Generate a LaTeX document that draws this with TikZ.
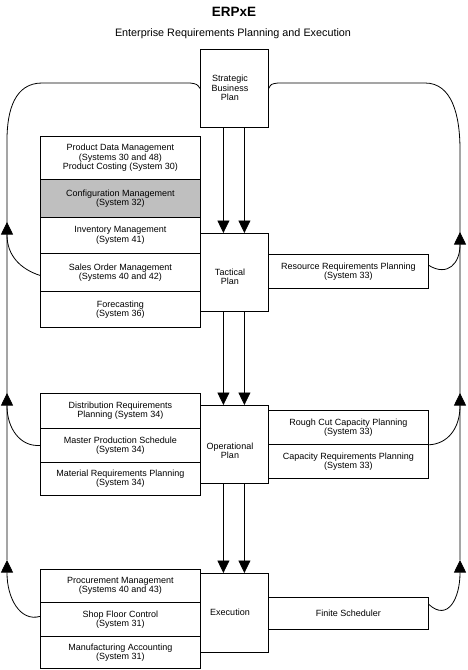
\documentclass[tikz,border=0pt]{standalone}
\usepackage{fontspec}
\setmainfont{Liberation Sans}
\usetikzlibrary{arrows.meta}

\begin{document}
\begin{tikzpicture}[x=1pt,y=-1pt,line width=0.8pt,
  every node/.style={font=\fontsize{9}{9.3}\selectfont,align=center},
  box/.style={draw,rectangle,inner sep=0pt,anchor=north west},
  tip/.style={-{Triangle[length=12.5pt,width=12pt]}}]

\useasboundingbox (0,0) rectangle (468,670);

% title
\node (title) at (234,12) {\fontsize{13.5}{13.5}\selectfont\bfseries ERPxE};
\node (subtitle) at (233,34) {\fontsize{10.8}{11}\selectfont Enterprise Requirements Planning and Execution};

% draw the plan boxes
\def\plans{
strat/49/127/{Strategic\\Business\\Plan}/88,
tact/233/311/{Tactical\\Plan}/277,
oper/405/483/{Operational\\Plan}/451,
exec/573/652/{Execution}/612}
\foreach \pname/\ptop/\pbot/\ptext/\pty in \plans
{
  \pgfmathsetmacro\ph{\pbot-\ptop}
  \node[box,minimum width=68pt,minimum height=\ph pt] (\pname) at (200,\ptop) {};
  \node (\pname-text) at (230,\pty) {\ptext};
}

% draw the system boxes
\def\systems{
pdm/40/136/179/white/{Product Data Management\\(Systems 30 and 48)\\Product Costing (System 30)},
cfg/40/179/217/gray!50/{Configuration Management\\(System 32)},
inv/40/217/253/white/{Inventory Management\\(System 41)},
sales/40/253/291/white/{Sales Order Management\\(Systems 40 and 42)},
fcst/40/291/327/white/{Forecasting\\(System 36)},
rrp/268/254/288/white/{Resource Requirements Planning\\(System 33)},
drp/40/393/428/white/{Distribution Requirements\\Planning (System 34)},
mps/40/428/462/white/{Master Production Schedule\\(System 34)},
mrp/40/462/495/white/{Material Requirements Planning\\(System 34)},
rccp/268/410/444/white/{Rough Cut Capacity Planning\\(System 33)},
crp/268/444/478/white/{Capacity Requirements Planning\\(System 33)},
proc/40/569/602/white/{Procurement Management\\(Systems 40 and 43)},
sfc/40/602/636/white/{Shop Floor Control\\(System 31)},
macc/40/636/668/white/{Manufacturing Accounting\\(System 31)},
fin/268/597/629/white/{Finite Scheduler}}
\foreach \sname/\sx/\stop/\sbot/\sfill/\stext in \systems
{
  \pgfmathsetmacro\sh{\sbot-\stop}
  \node[box,fill=\sfill,minimum width=160pt,minimum height=\sh pt] (\sname) at (\sx,\stop) {\stext};
}

% draw the plan flow
\foreach \a/\b in {strat/tact,tact/oper,oper/exec}
  \foreach \dx in {-11,10}
    \draw[tip] ([xshift=\dx pt]\a.south) -- ([xshift=\dx pt]\b.north);

% draw the feedback loops
\draw (strat.west) .. controls (197,84) .. (190,83) -- (42,83)
  .. controls (15,83) and (7,110) .. (7,140) -- (7,560);
\draw (strat.east) .. controls (271,84) .. (278,83) -- (425,83)
  .. controls (452,83) and (460,115) .. (460,150) -- (460,560);

\draw[tip] ([yshift=-3pt]sales.west) .. controls (20,269) and (7,255) .. (7,235) -- (7,222);
\draw[tip] (mps.west) .. controls (20,447) and (7,428) .. (7,406) -- (7,393);
\draw[tip] ([yshift=3pt]sfc.west) .. controls (20,622) and (7,598) .. (7,573) -- (7,560);

\draw[tip] ([yshift=6pt]rrp.east) .. controls (448,277) and (460,263) .. (460,245) -- (460,232);
\draw[tip] (rccp.south east) .. controls (448,444) and (460,428) .. (460,406) -- (460,393);
\draw[tip] ([yshift=9pt]fin.east) .. controls (448,622) and (460,598) .. (460,573) -- (460,560);

\end{tikzpicture}
\end{document}
